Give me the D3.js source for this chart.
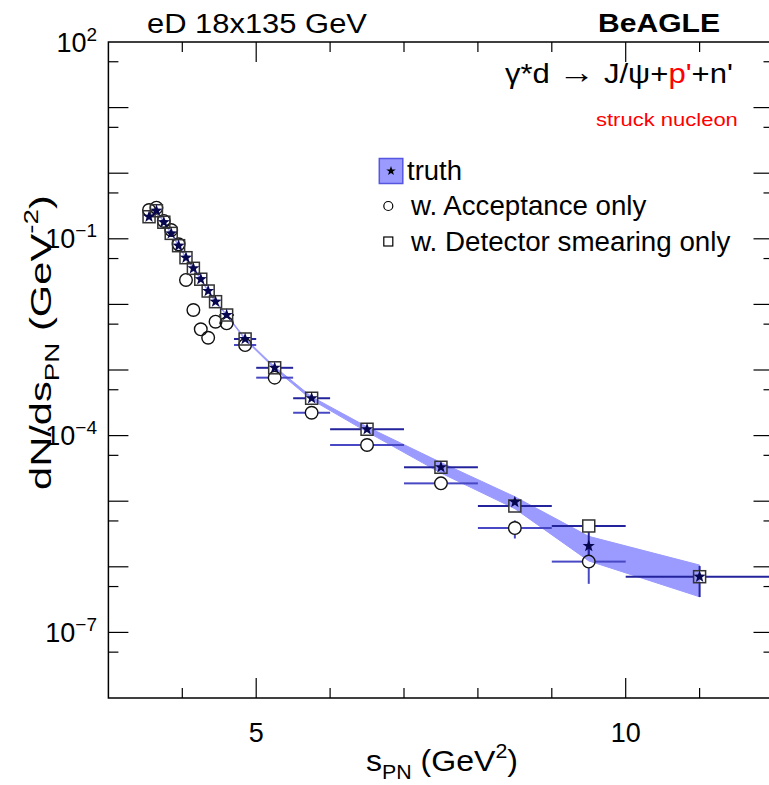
<!DOCTYPE html>
<html>
<head>
<meta charset="utf-8">
<script src="https://cdn.jsdelivr.net/npm/d3@7"></script>
<style>
body { margin: 0; background: #fff; }
svg { display: block; font-family: "Liberation Sans", Arial, Helvetica, sans-serif; }
</style>
</head>
<body>
<svg id="chart" width="769" height="785"></svg>
<script>
// bin edges in s_PN (GeV^2)
const binEdges = [3.5, 3.6, 3.7, 3.8, 3.9, 4.0, 4.1, 4.2, 4.3, 4.4, 4.5, 4.7, 5.0, 5.5, 6.0, 7.0, 8.0, 9.0, 10.0, 12.0];

// truth (band + stars)
const truth    = [0.217, 0.268, 0.179, 0.121, 0.0785, 0.0515, 0.0355, 0.0242, 0.0160, 0.0110, 0.00689, 0.00297, 0.00108, 3.71e-4, 1.25e-4, 3.29e-5, 9.7e-6, 2.07e-6, 7.06e-7];
const truthErr = [0.004, 0.005, 0.003, 0.002, 0.0012, 0.0008, 0.0005, 0.0004, 0.0003, 0.0002, 0.00012, 7e-5, 3.8e-5, 2e-5, 1.1e-5, 6e-6, 2e-6, 8.4e-7, 3.57e-7];

// w. Detector smearing only (squares)
const smeared      = [0.217, 0.268, 0.179, 0.121, 0.0785, 0.0515, 0.0355, 0.0242, 0.0160, 0.0110, 0.00689, 0.00297, 0.00108, 3.71e-4, 1.25e-4, 3.29e-5, 8.45e-6, 4.19e-6, 7.06e-7];
const smearedErrLo = [0.004, 0.005, 0.003, 0.002, 0.0012, 0.0008, 0.0005, 0.0004, 0.0003, 0.0002, 0.00012, 7e-5, 3.8e-5, 2e-5, 1.1e-5, 6e-6, 1.5e-6, 2.7e-6, 3.6e-7];
const smearedErrHi = [0.004, 0.005, 0.003, 0.002, 0.0012, 0.0008, 0.0005, 0.0004, 0.0003, 0.0002, 0.00012, 7e-5, 3.8e-5, 2e-5, 1.1e-5, 6e-6, 1.5e-6, 6e-7, 3.2e-7];

// w. Acceptance only (circles), last bin empty
const accepted    = [0.275, 0.298, 0.187, 0.136, 0.0824, 0.0236, 0.00822, 0.00417, 0.00310, 0.00545, 0.00515, 0.00240, 7.64e-4, 2.23e-4, 7.19e-5, 1.87e-5, 3.90e-6, 1.20e-6, null];
const acceptedErr = [0.005, 0.006, 0.004, 0.003, 0.0018, 0.0009, 0.0004, 0.0003, 0.00025, 0.0003, 0.0003, 9e-5, 4e-5, 1.5e-5, 6e-6, 2.2e-6, 1.2e-6, 6.5e-7, null];

const xTickLabels = [5, 10];
const yTickExponents = [2, -1, -4, -7];

const svg = d3.select("#chart");
const pLeft = 108.4, pRight = 773.5, pTop = 42, pBottom = 698;

const x = d3.scaleLinear().domain([3, 12]).range([pLeft, pRight]);
const y = d3.scaleLog().domain([1e-8, 1e2]).range([pBottom, pTop]);

const bins = truth.map((v, i) => ({
    lo: binEdges[i], hi: binEdges[i + 1], c: (binEdges[i] + binEdges[i + 1]) / 2,
    truth: v, terr: truthErr[i],
    sm: smeared[i], smLo: smearedErrLo[i], smHi: smearedErrHi[i],
    acc: accepted[i], accErr: acceptedErr[i]
}));

// fit a text element horizontally to a target width, left edge at x0
function fit(t, x0, width) {
    const bb = t.node().getBBox();
    const s = width / bb.width;
    t.attr("transform", `translate(${x0},0) scale(${s},1) translate(${-bb.x},0)`);
}

function starPath(R, r) {
    let p = "";
    for (let k = 0; k < 10; k++) {
        const rad = k % 2 ? r : R;
        const a = -Math.PI / 2 + k * Math.PI / 5;
        p += (k ? "L" : "M") + (rad * Math.cos(a)).toFixed(2) + "," + (rad * Math.sin(a)).toFixed(2);
    }
    return p + "Z";
}

svg.append("defs").append("clipPath").attr("id", "plot")
    .append("rect").attr("x", pLeft).attr("y", pTop).attr("width", pRight - pLeft).attr("height", pBottom - pTop);

const plot = svg.append("g").attr("clip-path", "url(#plot)");

// truth band
plot.append("path")
    .datum(bins)
    .attr("fill", "#9a9aff")
    .attr("stroke", "#9a9aff")
    .attr("stroke-width", 1)
    .attr("d", d3.area()
        .x(d => x(d.c))
        .y0(d => y(Math.max(d.truth - d.terr, 1e-9)))
        .y1(d => y(d.truth + d.terr)));

// error bars, stopping at marker edges
function errBars(data, val, eLo, eHi, half, color) {
    const segs = [];
    data.forEach(d => {
        const v = val(d);
        if (v == null) return;
        const cx = x(d.c), cy = y(v);
        if (cx - half > x(d.lo)) segs.push([x(d.lo), cy, cx - half, cy]);
        if (x(d.hi) > cx + half) segs.push([cx + half, cy, x(d.hi), cy]);
        const yt = y(v + eHi(d)), yb = y(Math.max(v - eLo(d), 1e-9));
        if (yt < cy - half) segs.push([cx, yt, cx, cy - half]);
        if (yb > cy + half) segs.push([cx, cy + half, cx, yb]);
    });
    plot.append("g").selectAll("line").data(segs).join("line")
        .attr("x1", s => s[0]).attr("y1", s => s[1])
        .attr("x2", s => s[2]).attr("y2", s => s[3])
        .attr("stroke", color).attr("stroke-width", 2);
}

errBars(bins, d => d.acc, d => d.accErr, d => d.accErr, 6.5, "#4848c4");
errBars(bins, d => d.sm, d => d.smLo, d => d.smHi, 6, "#23239c");

// circles
plot.append("g").selectAll("circle")
    .data(bins.filter(d => d.acc != null))
    .join("circle")
    .attr("cx", d => x(d.c)).attr("cy", d => y(d.acc))
    .attr("r", 6.3)
    .attr("fill", "none").attr("stroke", "#111").attr("stroke-width", 1.4);

// squares
plot.append("g").selectAll("rect")
    .data(bins)
    .join("rect")
    .attr("x", d => x(d.c) - 6).attr("y", d => y(d.sm) - 6)
    .attr("width", 12).attr("height", 12)
    .attr("fill", "none").attr("stroke", "#333").attr("stroke-width", 1.5);

// stars
plot.append("g").selectAll("path")
    .data(bins)
    .join("path")
    .attr("transform", d => `translate(${x(d.c)},${y(d.truth)})`)
    .attr("d", starPath(6.4, 2.6))
    .attr("fill", "#07074f");

// frame
svg.append("rect")
    .attr("x", pLeft).attr("y", pTop).attr("width", pRight - pLeft).attr("height", pBottom - pTop)
    .attr("fill", "none").attr("stroke", "#000").attr("stroke-width", 1.5);

// x ticks (bottom and top)
const axes = svg.append("g").attr("stroke", "#000").attr("stroke-width", 1.2);
x.ticks(9).filter(v => v > 3 && v < 12).forEach(v => {
    const len = v % 5 === 0 ? 20 : 10;
    axes.append("line").attr("x1", x(v)).attr("x2", x(v)).attr("y1", pBottom).attr("y2", pBottom - len);
    axes.append("line").attr("x1", x(v)).attr("x2", x(v)).attr("y1", pTop).attr("y2", pTop + len);
});

// y ticks: decades long, 5x10^n short
for (let e = -8; e <= 2; e++) {
    [[Math.pow(10, e), 20], [5 * Math.pow(10, e), 10]].forEach(([v, len]) => {
        if (v <= 1e-8 || v >= 1e2) return;
        axes.append("line").attr("x1", pLeft).attr("x2", pLeft + len).attr("y1", y(v)).attr("y2", y(v));
        axes.append("line").attr("x1", pRight).attr("x2", pRight - len).attr("y1", y(v)).attr("y2", y(v));
    });
}

// x tick labels
svg.append("g").selectAll("text").data(xTickLabels).join("text")
    .attr("x", d => x(d)).attr("y", 742)
    .attr("text-anchor", "middle").attr("font-size", 27)
    .text(d => d);

// y tick labels 10^n
yTickExponents.forEach(e => {
    const t = svg.append("text")
        .attr("x", 97).attr("y", y(Math.pow(10, e)) + 9.5)
        .attr("text-anchor", "end").attr("font-size", 27);
    t.append("tspan").text("10");
    t.append("tspan").attr("dy", -11).attr("font-size", 19).text(e < 0 ? "\u2212" + (-e) : e);
});

// axis titles
const xt = svg.append("text").attr("x", 0).attr("y", 771).attr("font-size", 30);
xt.append("tspan").text("s");
xt.append("tspan").attr("dy", 8).attr("font-size", 20).text("PN");
xt.append("tspan").attr("dy", -8).text(" (GeV");
xt.append("tspan").attr("dy", -13).attr("font-size", 20).text("2");
xt.append("tspan").attr("dy", 13).text(")");
fit(xt, 366, 152);

const ytg = svg.append("g").attr("transform", "translate(51,490) rotate(-90)");
const yt = ytg.append("text").attr("x", 0).attr("y", 0).attr("font-size", 30);
yt.append("tspan").text("dN/ds");
yt.append("tspan").attr("dy", 8).attr("font-size", 20).text("PN");
yt.append("tspan").attr("dy", -8).text(" (GeV");
yt.append("tspan").attr("dy", -13).attr("font-size", 20).text("-2");
yt.append("tspan").attr("dy", 13).text(")");
fit(yt, 0, 295);

// header texts
const title = svg.append("text").attr("y", 33).attr("font-size", 27).text("eD 18x135 GeV");
fit(title, 147, 220);
const gen = svg.append("text").attr("y", 31.7).attr("font-size", 26).attr("font-weight", "bold").text("BeAGLE");
fit(gen, 598, 122);

const react = svg.append("text").attr("y", 83).attr("font-size", 27);
react.append("tspan").text("\u03b3*d ");
react.append("tspan").attr("font-size", 32).attr("font-family", "Liberation Serif").text("\u2192");
react.append("tspan").text(" J/\u03c8+");
react.append("tspan").attr("fill", "#f00").text("p'");
react.append("tspan").text("+n'");
fit(react, 505, 228);

const struck = svg.append("text").attr("y", 126.5).attr("font-size", 19).attr("fill", "#f00").text("struck nucleon");
fit(struck, 596, 142);

// legend
const lg = svg.append("g");
lg.append("rect").attr("x", 379.3).attr("y", 158.5).attr("width", 23.5).attr("height", 25)
    .attr("fill", "#9a9aff").attr("stroke", "#5656e0").attr("stroke-width", 1.5);
lg.append("path").attr("transform", "translate(391,171)").attr("d", starPath(5, 2)).attr("fill", "#000");
lg.append("circle").attr("cx", 388.3).attr("cy", 206).attr("r", 4.5)
    .attr("fill", "none").attr("stroke", "#000").attr("stroke-width", 1.2);
lg.append("rect").attr("x", 383.8).attr("y", 237).attr("width", 9).attr("height", 9)
    .attr("fill", "none").attr("stroke", "#000").attr("stroke-width", 1.2);

const legendRows = [["truth", 407, 55, 180], ["w. Acceptance only", 410, 237, 215.5], ["w. Detector smearing only", 410, 321, 251]];
legendRows.forEach(([s, lx, w, by]) => {
    const t = lg.append("text").attr("y", by).attr("font-size", 27).text(s);
    fit(t, lx, w);
});
</script>
</body>
</html>
